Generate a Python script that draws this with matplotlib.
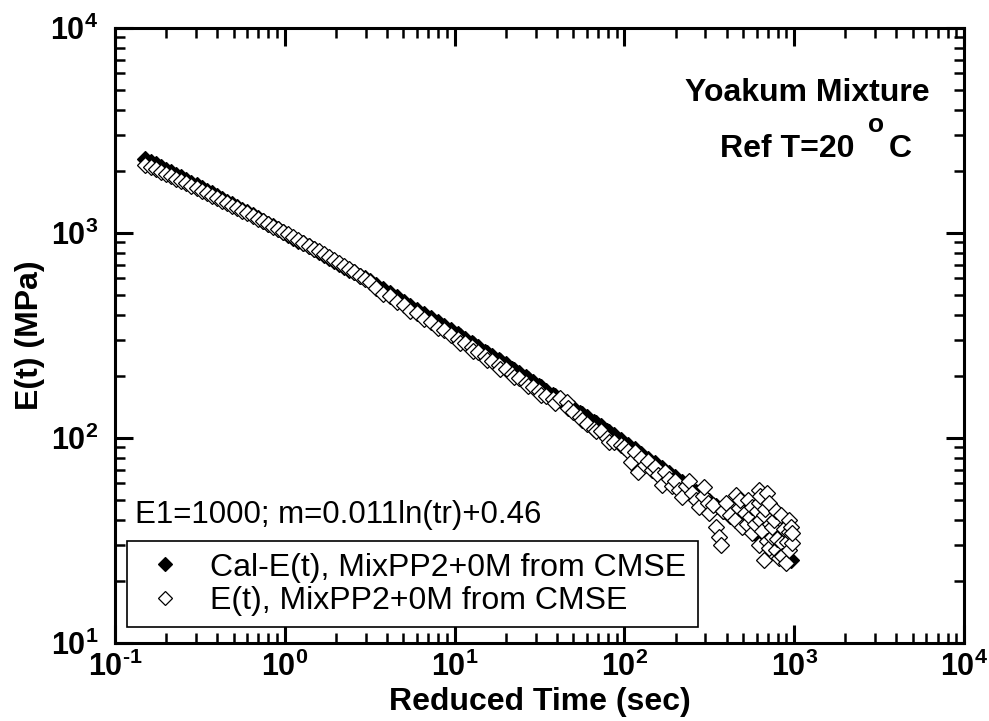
import math
import matplotlib
matplotlib.use('Agg')
import matplotlib.pyplot as plt
from matplotlib.ticker import LogLocator, FixedLocator, FuncFormatter, NullFormatter

plt.rcParams['font.family'] = ['Liberation Sans', 'DejaVu Sans']
plt.rcParams['mathtext.fontset'] = 'custom'
plt.rcParams['mathtext.rm'] = 'Liberation Sans'
plt.rcParams['mathtext.bf'] = 'Liberation Sans:bold'
plt.rcParams['mathtext.it'] = 'Liberation Sans:italic'

# calculated E(t) (filled diamonds)
t_cal = [0.151, 0.162, 0.174, 0.186, 0.200, 0.214, 0.229, 0.246, 0.263, 0.282,
         0.302, 0.324, 0.347, 0.372, 0.398, 0.427, 0.457, 0.490, 0.525, 0.562,
         0.603, 0.646, 0.692, 0.741, 0.794, 0.851, 0.912, 0.977, 1.047, 1.122,
         1.202, 1.288, 1.380, 1.479, 1.585, 1.698, 1.820, 1.950, 2.089, 2.239,
         2.399, 2.570, 2.754, 2.951, 3.162,
         3.467, 3.802, 4.169, 4.571, 5.012, 5.495, 6.026, 6.607, 7.244, 7.943,
         8.710, 9.550, 10.47, 10.72, 11.48, 12.59, 12.88, 13.80, 15.14, 15.49,
         16.60, 18.20, 18.62, 19.95, 21.88, 22.39, 23.99, 26.30, 26.92, 28.84,
         31.62, 32.36, 34.67, 38.02, 38.90, 41.69, 45.71, 46.77, 50.12, 54.95,
         56.23, 60.26, 66.07, 67.61, 72.44, 79.43, 81.28, 87.10, 95.50,
         104.7, 114.8, 125.9, 138.0, 151.4, 166.0, 182.0, 199.5, 218.8, 239.9,
         263.0, 288.4, 316.2, 346.7, 380.2, 416.9, 457.1, 501.2, 549.5, 602.6,
         660.7, 724.4, 794.3, 871.0, 955.0]
e_cal = [2292, 2226, 2163, 2101, 2040, 1981, 1923, 1867, 1813, 1760,
         1708, 1657, 1608, 1560, 1514, 1468, 1424, 1381, 1339, 1299,
         1259, 1220, 1183, 1147, 1111, 1077, 1043, 1011, 979, 948,
         918, 890, 861, 834, 807, 782, 757, 732, 708, 685,
         663, 642, 620, 600, 581,
         555, 531, 507, 485, 463, 442, 423, 404, 385, 368,
         351, 335, 320, 316, 305, 291, 287, 277, 264, 261,
         252, 240, 237, 229, 218, 215, 207, 198, 195, 188,
         179, 177, 170, 162, 160, 154, 147, 145, 140, 133,
         131, 126, 120, 118, 114, 108, 107, 103, 97.7,
         92.8, 88.1, 83.6, 79.4, 75.3, 71.4, 67.8, 64.3, 60.9, 57.8,
         54.8, 51.9, 49.2, 46.6, 44.1, 41.8, 39.6, 37.4, 35.4, 33.5,
         31.7, 30.0, 28.4, 26.8, 25.4]

# measured E(t) (open diamonds)
t_meas = [0.151, 0.162, 0.174, 0.186, 0.200, 0.214, 0.229, 0.246, 0.263, 0.282,
          0.302, 0.324, 0.347, 0.372, 0.398, 0.427, 0.457, 0.490, 0.525, 0.562,
          0.603, 0.646, 0.692, 0.741, 0.794, 0.851, 0.912, 0.977, 1.047, 1.122,
          1.202, 1.288, 1.380, 1.479, 1.585, 1.698, 1.820, 1.950, 2.089, 2.239,
          2.399, 2.570, 2.754, 2.951, 3.162,
          3.467, 3.802, 4.169, 4.571, 5.012, 5.495, 6.026, 6.607, 7.244, 7.943,
          8.710, 9.550, 10.47, 10.72, 11.48, 12.59, 12.88, 13.80, 15.14, 15.49,
          16.60, 18.20, 18.62, 19.95, 21.88, 22.39, 23.99, 26.30, 26.92, 28.84,
          31.62, 32.36, 34.67, 38.02, 38.90, 41.69, 45.71, 46.77, 50.12, 54.95,
          56.23, 60.26, 66.07, 67.61, 72.44, 79.43, 81.28, 87.10, 95.50,
          100.0, 104.7, 109.6, 114.8, 120.2, 125.9, 131.8, 138.0, 144.5, 151.4,
          158.5, 166.0, 173.8, 182.0, 190.5, 199.5, 208.9, 218.8, 229.1, 239.9,
          251.2, 263.0, 275.4, 288.4, 295.1, 309.0, 316.2, 331.1, 346.7, 363.1,
          371.5, 380.2, 398.1, 416.9,
          446.7, 457.1, 473.2, 478.6, 489.8, 512.9, 524.8, 537.0, 549.5, 562.3,
          562.3, 588.8, 602.6, 616.6, 616.6, 616.6, 631.0, 631.0, 645.7, 660.7,
          660.7, 676.1, 691.8, 691.8, 707.9, 707.9, 724.4, 741.3, 741.3, 758.6,
          776.2, 776.2, 794.3, 812.8, 831.8, 851.1, 851.1, 871.0, 891.3, 912.0,
          933.3, 933.3, 933.3, 955.0, 977.2, 977.2]
e_meas = [2150, 2100, 2045, 1990, 1940, 1890, 1840, 1795, 1745, 1700,
          1655, 1610, 1565, 1520, 1480, 1440, 1400, 1360, 1320, 1285,
          1248, 1210, 1175, 1140, 1108, 1075, 1045, 1012, 985, 955,
          925, 895, 866, 840, 815, 790, 762, 738, 712, 690,
          665, 643, 620, 598, 578,
          540, 505, 492, 462, 445, 418, 405, 382, 370, 345,
          336, 318, 305, 292, 290, 277, 265, 262, 250, 240,
          238, 226, 218, 216, 206, 198, 196, 186, 180, 178,
          170, 162, 160, 155, 148, 156, 150, 140, 134, 126,
          122, 117, 111, 108, 108, 100, 96, 96, 92,
          90, 86, 76, 85, 68, 80, 74, 77, 70, 72,
          66, 59, 68, 63, 58, 62, 56, 51.5, 58, 62,
          54, 50, 46, 52, 57.5, 48, 43, 47, 36.8, 33,
          30, 44, 48, 42,
          40, 52.5, 45.7, 50, 36.8, 43, 38, 50, 41, 34.4,
          46, 38, 44, 48, 30, 56, 40, 52, 35, 42,
          25.4, 45, 31.6, 54, 29, 48, 38, 33, 36.8, 40,
          28.4, 44, 32, 26, 42, 30.8, 26.5, 36, 24.5, 31,
          34.7, 28.4, 40, 37, 30.8, 34.4]

x_major = [0.1, 1, 10, 100, 1000, 10000]
y_major = [10, 100, 1000, 10000]

W, H = 989, 721


def px(x, y):
    return x / W, 1 - y / H


fig = plt.figure(figsize=(W / 100, H / 100), dpi=100)
ax = fig.add_axes([115 / W, 1 - 643 / H, 849 / W, 615 / H])
ax.set_xscale('log')
ax.set_yscale('log')

ax.plot(t_cal, e_cal, ls='none', marker='D', ms=8, mfc='black', mec='black',
        mew=0.9, label='Cal-E(t), MixPP2+0M from CMSE', zorder=2)
ax.plot(t_meas, e_meas, ls='none', marker='D', ms=8, mfc='white', mec='black',
        mew=0.9, label='E(t), MixPP2+0M from CMSE', zorder=3)

ax.set_xlim(0.1, 1e4)
ax.set_ylim(10, 1e4)


def dec_fmt(v, pos):
    e = int(round(math.log10(v)))
    # short hyphen for the negative exponent, like the original
    ex = str(e).replace('-', '\u2010')
    return r'$\mathbf{10^{%s}}$' % ex


for axis, majors in ((ax.xaxis, x_major), (ax.yaxis, y_major)):
    axis.set_major_locator(FixedLocator(majors))
    axis.set_major_formatter(FuncFormatter(dec_fmt))
    axis.set_minor_locator(LogLocator(base=10, subs=range(2, 10), numticks=20))
    axis.set_minor_formatter(NullFormatter())

ax.tick_params(which='both', direction='in', top=True, right=True)
ax.tick_params(which='major', length=13, width=2.2, labelsize=22)
ax.tick_params(which='minor', length=7, width=1.8)
ax.tick_params(axis='x', which='major', pad=6)
ax.tick_params(axis='y', which='major', pad=12)
for sp in ax.spines.values():
    sp.set_linewidth(2.2)

# axis labels
fig.text(*px(540, 702), 'Reduced Time (sec)', ha='center', va='center',
         fontsize=23, fontweight='bold')
fig.text(*px(30, 335), 'E(t) (MPa)', ha='center', va='center', rotation=90,
         fontsize=23, fontweight='bold')

# annotations
fig.text(*px(930, 101), 'Yoakum Mixture', ha='right', va='baseline',
         fontsize=23, fontweight='bold')
fig.text(*px(855, 157), 'Ref T=20', ha='right', va='baseline',
         fontsize=23, fontweight='bold')
fig.text(*px(868, 132), 'o', ha='left', va='baseline',
         fontsize=19, fontweight='bold')
fig.text(*px(889, 157), 'C', ha='left', va='baseline',
         fontsize=23, fontweight='bold')
fig.text(*px(135, 523), 'E1=1000; m=0.011ln(tr)+0.46', ha='left', va='baseline',
         fontsize=22.5)

leg = ax.legend(loc='lower left', bbox_to_anchor=((127 - 115) / 849, (643 - 627) / 615),
                borderaxespad=0, fontsize=23, numpoints=1, handlelength=1.7,
                handletextpad=0.56, borderpad=0.35, labelspacing=0.1,
                fancybox=False, framealpha=1, markerscale=0.9)
leg.get_frame().set_edgecolor('black')
leg.get_frame().set_linewidth(1.2)

fig.savefig('out.png', dpi=100)
